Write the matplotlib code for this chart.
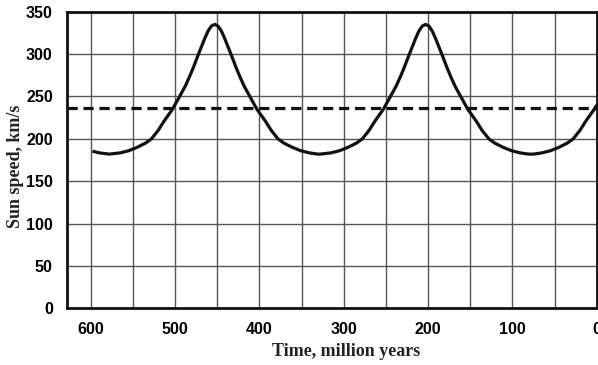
import matplotlib
matplotlib.use("Agg")
import matplotlib.pyplot as plt
from matplotlib import font_manager

# time before present (million years) and sun speed (km/s)
time_myr = [598, 590, 578, 565, 555, 545, 535, 528, 520, 513, 508, 503, 498, 493,
            488, 483, 478, 473, 469, 465, 461, 457, 453, 449, 445, 441, 437, 433,
            428, 423, 418, 413, 408, 403, 398, 393, 386, 378, 371, 361, 351, 341,
            331, 328, 315, 305, 295, 285, 278, 270, 263, 258, 253, 248, 243, 238,
            233, 228, 223, 219, 215, 211, 207, 203, 199, 195, 191, 187, 183, 178,
            173, 168, 163, 158, 153, 148, 143, 136, 128, 121, 111, 101, 91, 81,
            75, 65, 55, 45, 35, 28, 20, 13, 8, 3, 0]
speed = [185.5, 183.5, 182, 183.5, 186, 190, 195, 200, 210, 221, 228, 235, 244, 253,
         262, 273, 285, 298, 308, 318, 327, 333, 335, 333, 327, 318, 308, 298,
         285, 273, 262, 253, 244, 235, 228, 221, 210, 200, 195, 190, 186, 183.5,
         182, 182, 183.5, 186, 190, 195, 200, 210, 221, 228, 235, 244, 253, 262,
         273, 285, 298, 308, 318, 327, 333, 335, 333, 327, 318, 308, 298, 285,
         273, 262, 253, 244, 235, 228, 221, 210, 200, 195, 190, 186, 183.5, 182,
         182, 183.5, 186, 190, 195, 200, 210, 221, 228, 235, 240]
sun_now = 236

x_ticks = [600, 500, 400, 300, 200, 100, 0]
y_ticks = [0, 50, 100, 150, 200, 250, 300, 350]

names = {f.name for f in font_manager.fontManager.ttflist}
tick_font = "Liberation Sans Narrow" if "Liberation Sans Narrow" in names else "Liberation Sans"

fig = plt.figure(figsize=(5.98, 3.65), dpi=100)
ax = fig.add_axes([0.1115, 0.155, 0.8865, 0.813])

ax.plot(time_myr, speed, color="#111111", lw=2.3, solid_capstyle="butt", zorder=3)
ax.axhline(sun_now, color="#111111", lw=2.3, dashes=(3.2, 1.8), zorder=3)

ax.set_xlim(628.5, 0)
ax.set_ylim(0, 350)
ax.set_xticks(x_ticks)
ax.set_xticks(range(0, 601, 50), minor=True)
ax.set_yticks(y_ticks)
ax.grid(True, which="both", color="#555555", lw=1.0)
ax.tick_params(which="both", length=0)
ax.tick_params(axis="y", pad=10)
ax.tick_params(axis="x", pad=10)

for lab in ax.get_xticklabels() + ax.get_yticklabels():
    lab.set_fontfamily(tick_font)
    lab.set_fontweight("bold")
    lab.set_fontsize(11.5)

for s in ax.spines.values():
    s.set_linewidth(2.0)
    s.set_color("#111111")

ax.set_xlabel("Time, million years", family="Liberation Serif", weight="bold",
              fontsize=13, color="#222222")
ax.xaxis.set_label_coords(0.527, -0.118)
ax.set_ylabel("Sun speed, km/s", family="Liberation Serif", weight="bold",
              fontsize=13, color="#222222")
ax.yaxis.set_label_coords(-0.08, 0.48)

fig.savefig("out.png", dpi=100)
